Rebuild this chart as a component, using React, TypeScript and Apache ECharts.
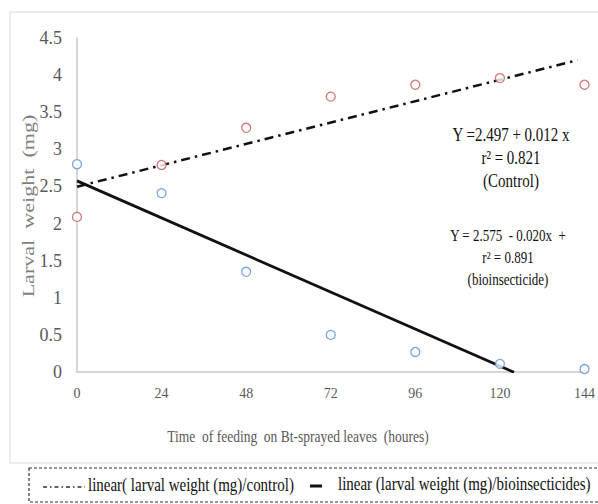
import React, { useEffect, useRef } from "react";
import * as echarts from "echarts";

const hours = [0, 24, 48, 72, 96, 120, 144];
const controlWeight = [2.09, 2.79, 3.29, 3.71, 3.87, 3.96, 3.87];
const bioWeight = [2.8, 2.41, 1.35, 0.5, 0.27, 0.11, 0.04];

// trend lines (intercept, slope, x-range of the drawn line)
const controlTrend = { intercept: 2.497, slope: 0.012, xStart: 0, xEnd: 142 };
const bioTrend = { intercept: 2.575, slope: -0.0208, xStart: 0, xEnd: 124 };

const yTicks = { min: 0, max: 4.5, interval: 0.5 };
const xTicks = { min: 0, max: 144, interval: 24 };

const controlEq = ["Y =2.497 + 0.012 x", "r² = 0.821", "(Control)"];
const bioEq = ["Y = 2.575  - 0.020x  +", "r² = 0.891", "(bioinsecticide)"];

const legendControl = "linear( larval weight (mg)/control)";
const legendBio = "linear (larval weight (mg)/bioinsecticides)";
const xName = "Time  of feeding  on Bt-sprayed leaves  (houres)";
const yName = "Larval  weight  (mg)";

const SERIF = "Liberation Serif";

function trendPoints(t: { intercept: number; slope: number; xStart: number; xEnd: number }) {
  return [
    [t.xStart, t.intercept + t.slope * t.xStart],
    [t.xEnd, t.intercept + t.slope * t.xEnd],
  ];
}

function txt(x: number, y: number, text: string, size: number, fill: string, align = "center", extra: any = {}) {
  return {
    type: "text",
    x,
    y,
    ...extra,
    style: { text, fill, fontFamily: SERIF, fontSize: size, align, verticalAlign: "middle" },
  };
}

export default function App() {
  const ref = useRef<HTMLDivElement>(null);
  useEffect(() => {
    if (!ref.current) return;
    const chart = echarts.init(ref.current, undefined, { renderer: "svg" });
    const option: any = {
      animation: false,
      backgroundColor: "#ffffff",
      grid: { left: 77, top: 38, right: 11, bottom: 132, containLabel: false },
      xAxis: {
        type: "value",
        min: xTicks.min,
        max: xTicks.max,
        interval: xTicks.interval,
        axisLine: { show: true, lineStyle: { color: "#c8c8c8", width: 1.5 } },
        axisTick: { show: false },
        splitLine: { show: false },
        axisLabel: { color: "#595959", fontFamily: SERIF, fontSize: 14, margin: 14 },
      },
      yAxis: {
        type: "value",
        min: yTicks.min,
        max: yTicks.max,
        interval: yTicks.interval,
        axisLine: { show: true, lineStyle: { color: "#c8c8c8", width: 1.5 } },
        axisTick: { show: false },
        splitLine: { show: false },
        axisLabel: { color: "#595959", fontFamily: SERIF, fontSize: 18, margin: 15 },
      },
      series: [
        {
          type: "scatter",
          data: hours.map((h, i) => [h, controlWeight[i]]),
          symbol: "circle",
          symbolSize: 9,
          itemStyle: { color: "#ffffff", borderColor: "#c9585a", borderWidth: 1.3 },
          z: 3,
        },
        {
          type: "scatter",
          data: hours.map((h, i) => [h, bioWeight[i]]),
          symbol: "circle",
          symbolSize: 9,
          itemStyle: { color: "#ffffff", borderColor: "#5b8fd6", borderWidth: 1.3 },
          z: 3,
        },
        {
          type: "line",
          data: trendPoints(controlTrend),
          symbol: "none",
          lineStyle: { color: "#111", width: 2.5, type: [9, 5, 2.5, 5] },
          z: 2,
        },
        {
          type: "line",
          data: trendPoints(bioTrend),
          symbol: "none",
          lineStyle: { color: "#111", width: 2.8, type: "solid" },
          z: 2,
        },
      ],
      graphic: [
        {
          type: "rect",
          shape: { x: 10, y: 12, width: 600, height: 451 },
          style: { fill: "none", stroke: "#d9d9d9", lineWidth: 1 },
          z: 0,
        },
        txt(28, 206, yName, 17, "#7f7f7f", "center", { rotation: Math.PI / 2, scaleX: 1.3 }),
        txt(298, 436, xName, 13.5, "#595959", "center", { scaleY: 1.25 }),
        ...controlEq.map((t, i) => txt(511, 135 + i * 23, t, 15, "#111", "center", { scaleY: 1.25 })),
        ...bioEq.map((t, i) => txt(508, 235 + i * 22, t, 13, "#111", "center", { scaleY: 1.25 })),
        {
          type: "rect",
          shape: { x: 29, y: 468, width: 580, height: 34 },
          style: { fill: "none", stroke: "#333", lineWidth: 1.2, lineDash: [3, 2] },
        },
        {
          type: "line",
          shape: { x1: 43, y1: 487, x2: 85, y2: 487 },
          style: { stroke: "#333", lineWidth: 1.5, lineDash: [4, 3, 1.5, 3] },
        },
        txt(88, 485, legendControl, 15, "#111", "left", { scaleY: 1.2 }),
        {
          type: "line",
          shape: { x1: 310, y1: 486, x2: 322, y2: 486 },
          style: { stroke: "#111", lineWidth: 3 },
        },
        txt(338, 484, legendBio, 15, "#111", "left", { scaleY: 1.2 }),
      ],
    };
    chart.setOption(option);
    return () => chart.dispose();
  }, []);
  return (
    <div
      ref={ref}
      style={{ position: "fixed", left: 0, top: 0, width: 598, height: 504 }}
    />
  );
}
